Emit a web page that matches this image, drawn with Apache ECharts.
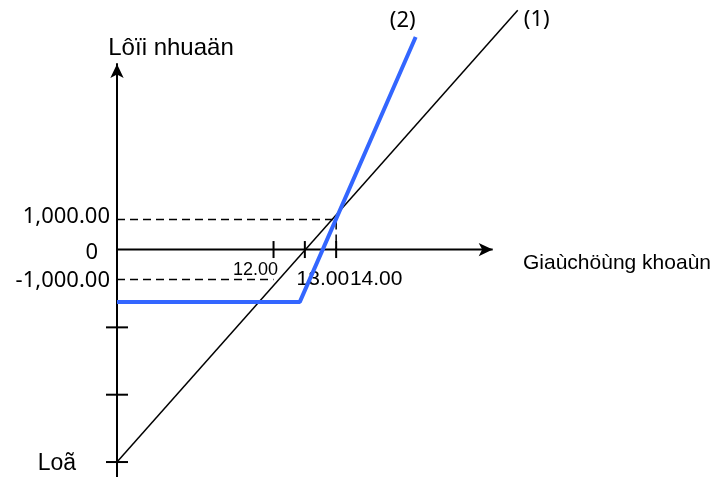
<!DOCTYPE html>
<html>
<head>
<meta charset="utf-8">
<script src="https://cdn.jsdelivr.net/npm/echarts@6/dist/echarts.min.js"></script>
<style>
  html, body { margin: 0; padding: 0; background: #fff; }
  #chart { width: 715px; height: 477px; }
</style>
</head>
<body>
<div id="chart"></div>
<script>
// price on x, profit / loss on y
var priceTicks = [12, 13, 14];
var priceTickLabels = ['12.00', '13.00', '14.00'];
var profitLabelValues = [1000, 0, -1000, -7100];
var profitLabels = ['1,000.00', '0', '-1,000.00', 'Loã'];
var lossTicks = [-2600, -4850, -7100];

var line1Price = [7, 19.8];
var line1Profit = [-7100, 8000];
var line2Price = [7, 12.84, 16.54];
var line2Profit = [-1750, -1750, 7100];

var guideUpPrice = [7, 14, 14];
var guideUpProfit = [1000, 1000, 0];
var guideDownPrice = [7, 12];
var guideDownProfit = [-1000, -1000];

var seriesNames = ['(1)', '(2)'];

var X_MIN = 7, X_MAX = 20, X_ARROW = 19;
var Y_MIN = -7600, Y_MAX = 6200;

function zip(xs, ys) {
  return xs.map(function (x, i) { return [x, ys[i]]; });
}

var tickLabelOffsets = [[-18, 20], [18, 30], [40, 30]];
var tickLabelSizes = [18, 21, 21];
var yLabelStyles = ['a', 'z', 'b', 'l'];

var myChart = echarts.init(document.getElementById('chart'));

myChart.setOption({
  animation: false,
  backgroundColor: '#fff',
  grid: { left: 117, right: 191, top: 64, bottom: 0, outerBoundsMode: 'none' },
  xAxis: {
    type: 'value',
    min: X_MIN,
    max: X_MAX,
    splitLine: { show: false },
    axisTick: { show: false },
    axisLabel: { show: false },
    axisLine: { show: false, onZero: true },
    name: 'Giaùchöùng khoaùn',
    nameLocation: 'end',
    nameGap: -1,
    nameTextStyle: {
      color: '#000',
      fontFamily: 'Liberation Sans, Arial, sans-serif',
      fontSize: 21,
      verticalAlign: 'top',
      padding: [3, 0, 0, 0]
    }
  },
  yAxis: {
    type: 'value',
    min: Y_MIN,
    max: Y_MAX,
    splitLine: { show: false },
    axisTick: { show: false },
    axisLine: {
      onZero: false,
      symbol: ['none', 'arrow'],
      symbolSize: [10, 14],
      lineStyle: { color: '#000', width: 2 }
    },
    axisLabel: {
      customValues: profitLabelValues,
      margin: 7,
      color: '#000',
      fontFamily: 'Noto Sans, sans-serif',
      fontSize: 22,
      formatter: function (v) {
        var i = profitLabelValues.indexOf(v);
        if (i < 0) return '';
        return '{' + yLabelStyles[i] + '|' + profitLabels[i] + '}';
      },
      rich: {
        a: { fontFamily: 'Noto Sans, sans-serif', fontSize: 22, color: '#000', padding: [0, 0, 6, 0] },
        z: { fontFamily: 'Noto Sans, sans-serif', fontSize: 22, color: '#000', padding: [6, 12, 0, 0] },
        b: { fontFamily: 'Noto Sans, sans-serif', fontSize: 22, color: '#000', padding: [2, 0, 0, 0] },
        l: { fontFamily: 'Liberation Sans, Arial, sans-serif', fontSize: 23, color: '#000', padding: [4, 34, 0, 0] }
      }
    },
    name: 'Lôïi nhuaän',
    nameLocation: 'end',
    nameGap: 4,
    nameTextStyle: {
      color: '#000',
      fontFamily: 'Liberation Sans, Arial, sans-serif',
      fontSize: 24,
      align: 'center',
      padding: [0, 0, 0, 108]
    }
  },
  series: [
    {
      // horizontal axis with arrow head
      type: 'line',
      data: [
        { value: [X_MIN, 0], symbol: 'none' },
        { value: [X_ARROW, 0], symbol: 'arrow', symbolSize: [10, 14], symbolRotate: -90 }
      ],
      showSymbol: true,
      silent: true,
      itemStyle: { color: '#000' },
      lineStyle: { color: '#000', width: 2 },
      z: 2
    },
    {
      type: 'scatter',
      data: lossTicks.map(function (v) { return [X_MIN, v]; }),
      symbol: 'rect',
      symbolSize: [22, 2],
      itemStyle: { color: '#000', opacity: 1 },
      silent: true,
      z: 3
    },
    {
      type: 'scatter',
      data: priceTicks.map(function (v) { return [v, 0]; }),
      symbol: 'rect',
      symbolSize: [2, 17],
      itemStyle: { color: '#000', opacity: 1 },
      silent: true,
      z: 3
    },
    {
      type: 'scatter',
      data: priceTicks.map(function (v, i) {
        return {
          value: [v, 0],
          label: { offset: tickLabelOffsets[i], fontSize: tickLabelSizes[i] }
        };
      }),
      symbolSize: 0,
      silent: true,
      itemStyle: { opacity: 1 },
      label: {
        show: true,
        position: 'inside',
        color: '#000',
        opacity: 1,
        fontFamily: 'Liberation Sans, Arial, sans-serif',
        formatter: function (p) { return priceTickLabels[p.dataIndex]; }
      },
      z: 4
    },
    {
      type: 'line',
      data: zip(guideUpPrice, guideUpProfit),
      showSymbol: false,
      silent: true,
      lineStyle: { color: '#000', width: 1.5, type: [8, 5] }
    },
    {
      type: 'line',
      data: zip(guideDownPrice, guideDownProfit),
      showSymbol: false,
      silent: true,
      lineStyle: { color: '#000', width: 1.5, type: [8, 5] }
    },
    {
      name: seriesNames[0],
      type: 'line',
      data: zip(line1Price, line1Profit),
      showSymbol: false,
      clip: false,
      silent: true,
      lineStyle: { color: '#000', width: 1.5 },
      z: 5
    },
    {
      name: seriesNames[1],
      type: 'line',
      data: zip(line2Price, line2Profit),
      showSymbol: false,
      clip: false,
      silent: true,
      lineStyle: { color: '#3366ff', width: 4 },
      z: 6
    },
    {
      type: 'scatter',
      data: [
        { value: [line1Price[1], line1Profit[1]], label: { offset: [19, 10] } },
        { value: [line2Price[2], line2Profit[2]], label: { offset: [-13, -16] } }
      ],
      symbolSize: 0,
      clip: false,
      silent: true,
      itemStyle: { opacity: 1 },
      label: {
        show: true,
        position: 'inside',
        color: '#000',
        opacity: 1,
        fontFamily: 'Noto Sans, sans-serif',
        fontSize: 22,
        formatter: function (p) { return seriesNames[p.dataIndex]; }
      },
      z: 7
    }
  ]
});
</script>
</body>
</html>
